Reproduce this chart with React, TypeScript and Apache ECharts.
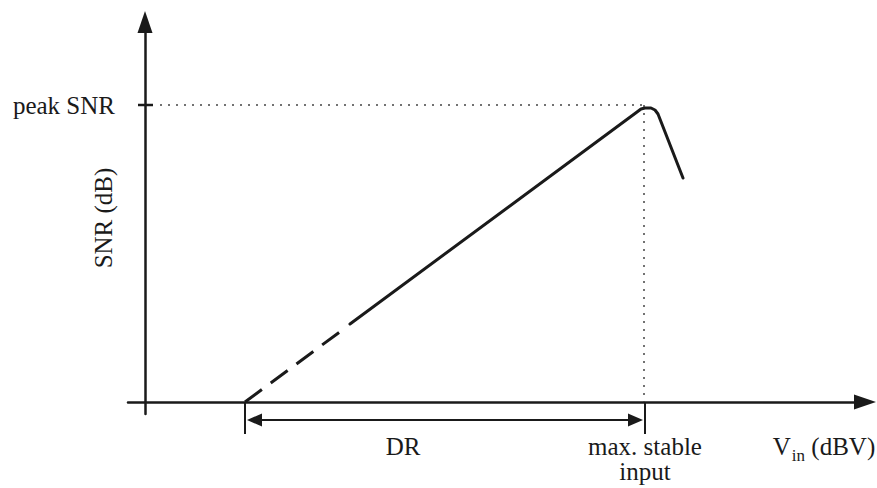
import React, { useEffect, useRef } from "react";
import * as echarts from "echarts";

// Schematic SNR vs input level curve (arbitrary units)
const dashedPart: number[][] = [[10, 0], [19.6, 7.1]];
const solidPart: number[][] = [
  [20.5, 7.8], [49.2, 29.0], [49.6, 29.3], [50.0, 29.4], [50.6, 29.4],
  [51.0, 29.2], [51.3, 28.8], [53.8, 22.4],
];
const peakSNR = 29.7;
const peakX = 49.9;
const drStart = 10;
const stableInput = 50;
const drArrowY = -1.8;
const drArrowEnds = [10.95, 49.05];
const markerBottom = -3.2;

const xLabelValues = [25.8, 50, 67.9];
const xLabelTexts = ["{t|DR}", "{t|max. stable}\n{t|input}", "{t|V}{s|in}{t| (dBV)}"];
const yLabelValues = [peakSNR];
const yLabelTexts = ["peak SNR"];

const FONT = "'Liberation Serif', 'Times New Roman', serif";
const INK = "#1a1a1a";

export default function App() {
  const ref = useRef<HTMLDivElement>(null);
  useEffect(() => {
    if (!ref.current) return;
    const chart = echarts.init(ref.current, undefined, { renderer: "svg" });
    const line = (data: any[], style: any, extra: any = {}) => ({
      type: "line",
      data,
      symbol: "none",
      showSymbol: false,
      silent: true,
      clip: false,
      lineStyle: style,
      ...extra,
    });
    chart.setOption({
      animation: false,
      backgroundColor: "#ffffff",
      grid: {
        left: 128,
        top: 22,
        width: 737,
        height: 392,
        containLabel: false,
        outerBoundsMode: "none",
      },
      xAxis: {
        type: "value",
        min: -1.7,
        max: 72,
        splitLine: { show: false },
        axisTick: { show: false },
        axisLine: {
          onZero: true,
          lineStyle: { color: INK, width: 2.5 },
          symbol: ["none", "triangle"],
          symbolSize: [15, 22],
        },
        axisLabel: {
          customValues: xLabelValues,
          margin: 20,
          color: INK,
          fontFamily: FONT,
          fontSize: 25,
          lineHeight: 25,
          hideOverlap: false,
          formatter: (v: number) => {
            const i = xLabelValues.findIndex((x) => Math.abs(x - v) < 1e-6);
            return i >= 0 ? xLabelTexts[i] : "";
          },
          rich: {
            t: { fontFamily: FONT, fontSize: 25, lineHeight: 25, color: INK, verticalAlign: "top" },
            s: { fontFamily: FONT, fontSize: 17, lineHeight: 17, color: INK, verticalAlign: "top", padding: [13, 0, 0, 1] },
          },
        },
      },
      yAxis: {
        type: "value",
        min: -1.2,
        max: 38,
        splitLine: { show: false },
        axisTick: { show: false },
        axisLine: {
          onZero: true,
          lineStyle: { color: INK, width: 2.5 },
          symbol: ["none", "triangle"],
          symbolSize: [15, 22],
        },
        axisLabel: {
          customValues: yLabelValues,
          margin: 13,
          color: INK,
          fontFamily: FONT,
          fontSize: 25,
          formatter: (v: number) => {
            const i = yLabelValues.findIndex((y) => Math.abs(y - v) < 1e-6);
            return i >= 0 ? yLabelTexts[i] : "";
          },
        },
        name: "SNR (dB)",
        nameLocation: "middle",
        nameRotate: 90,
        nameGap: 12,
        nameMoveOverlap: false,
        nameTextStyle: { fontFamily: FONT, fontSize: 25, color: INK },
      },
      series: [
        // dotted guide lines
        line([[1.5, peakSNR], [peakX, peakSNR]], { color: "#444", width: 1.5, type: [2, 6] }),
        line([[peakX, peakSNR], [peakX, 0]], { color: "#444", width: 1.5, type: [2, 6] }),
        // peak SNR tick
        line([[-0.7, peakSNR], [0.8, peakSNR]], { color: INK, width: 2.5 }),
        // curve
        line(dashedPart, { color: INK, width: 3, type: [21, 11] }),
        line(solidPart, { color: INK, width: 3, join: "round", cap: "round" }),
        // vertical markers for DR
        line([[drStart, 0], [drStart, markerBottom]], { color: INK, width: 2 }),
        line([[stableInput, 0], [stableInput, markerBottom]], { color: INK, width: 2 }),
        // DR double arrow
        line(
          [
            { value: [drArrowEnds[0], drArrowY], symbol: "triangle", symbolRotate: 90 },
            { value: [drArrowEnds[1], drArrowY], symbol: "triangle", symbolRotate: -90 },
          ],
          { color: INK, width: 2 },
          { showSymbol: true, symbolSize: [13, 15], itemStyle: { color: INK } }
        ),
      ],
    });
    return () => chart.dispose();
  }, []);
  return (
    <div
      ref={ref}
      style={{ position: "fixed", left: 0, top: 0, width: 877, height: 488 }}
    />
  );
}
